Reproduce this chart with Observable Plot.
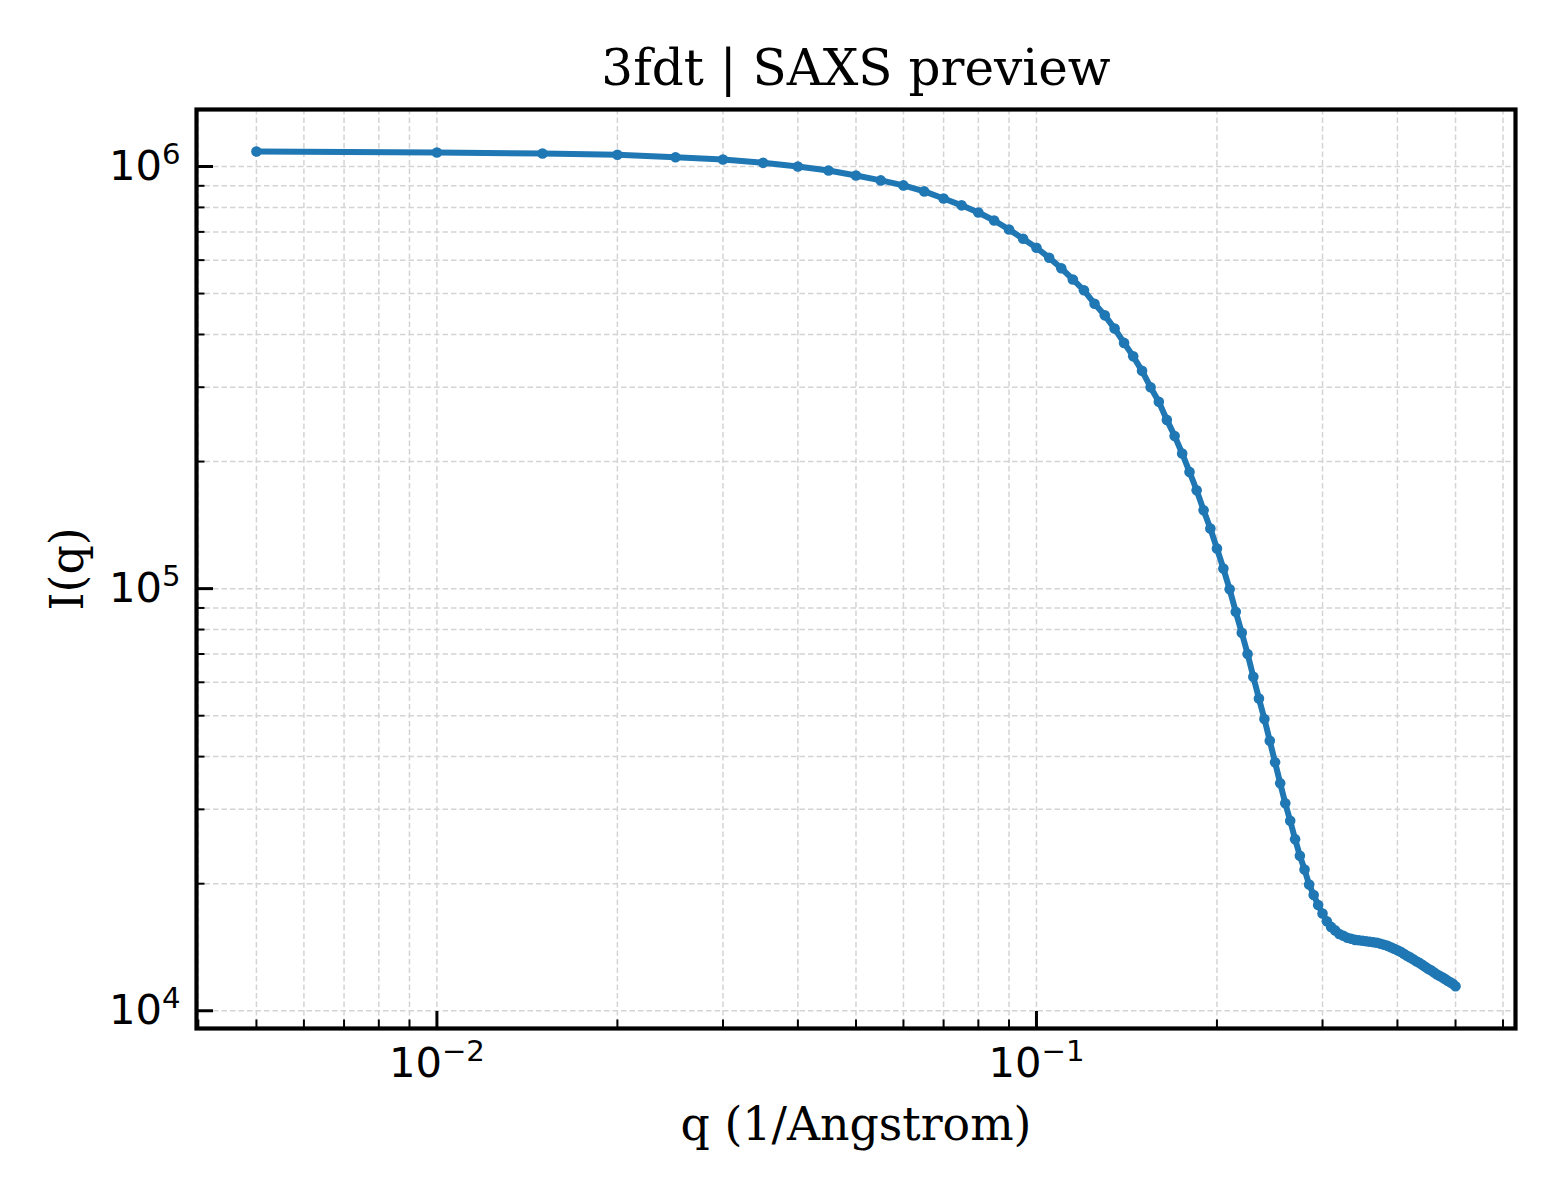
<!DOCTYPE html>
<html>
<head>
<meta charset="utf-8">
<script src="https://cdn.jsdelivr.net/npm/d3@7"></script>
<script src="https://cdn.jsdelivr.net/npm/@observablehq/plot@0.6"></script>
<style>
html, body { margin: 0; padding: 0; background: #ffffff; }
#chart { width: 1560px; height: 1200px; }
</style>
</head>
<body>
<div id="chart"></div>
<script>
// ---- data ----
const qValues = [
  0.005, 0.010, 0.015, 0.020, 0.025, 0.030, 0.035, 0.040, 0.045, 0.050,
  0.055, 0.060, 0.065, 0.070, 0.075, 0.080, 0.085, 0.090, 0.095, 0.100,
  0.105, 0.110, 0.115, 0.120, 0.125, 0.130, 0.135, 0.140, 0.145, 0.150,
  0.155, 0.160, 0.165, 0.170, 0.175, 0.180, 0.185, 0.190, 0.195, 0.200,
  0.205, 0.210, 0.215, 0.220, 0.225, 0.230, 0.235, 0.240, 0.245, 0.250,
  0.255, 0.260, 0.265, 0.270, 0.275, 0.280, 0.285, 0.290, 0.295, 0.300,
  0.305, 0.310, 0.315, 0.320, 0.325, 0.330, 0.335, 0.340, 0.345, 0.350,
  0.355, 0.360, 0.365, 0.370, 0.375, 0.380, 0.385, 0.390, 0.395, 0.400,
  0.405, 0.410, 0.415, 0.420, 0.425, 0.430, 0.435, 0.440, 0.445, 0.450,
  0.455, 0.460, 0.465, 0.470, 0.475, 0.480, 0.485, 0.490, 0.495, 0.500
];
const intensity = [
  1085000, 1079000, 1073000, 1066000, 1052000, 1039000, 1020000, 1000000, 978000, 952000,
  927000, 902000, 873000, 840000, 809000, 778000, 745000, 709000, 674000, 642000,
  608000, 574000, 540000, 509000, 473000, 444000, 413000, 382000, 355000, 328000,
  300000, 277000, 251000, 230000, 209000, 189000, 171000, 153400, 138800, 124500,
  111600, 99600, 88100, 78600, 70000, 61800, 54900, 49100, 43600, 38800,
  34600, 31000, 28200, 25500, 23300, 21600, 19900, 18800, 17800, 17000,
  16300, 15800, 15500, 15200, 15050, 14890, 14810, 14720, 14690, 14650,
  14610, 14570, 14530, 14490, 14410, 14330, 14250, 14140, 14020, 13910,
  13790, 13640, 13500, 13380, 13240, 13100, 12990, 12850, 12710, 12570,
  12470, 12340, 12200, 12100, 12000, 11900, 11780, 11680, 11580, 11430
];
const xMajorTicks = [0.01, 0.1];
const xMinorTicks = [0.004, 0.005, 0.006, 0.007, 0.008, 0.009,
                     0.02, 0.03, 0.04, 0.05, 0.06, 0.07, 0.08, 0.09,
                     0.2, 0.3, 0.4, 0.5, 0.6];
const yMajorTicks = [1e4, 1e5, 1e6];
const yMinorTicks = [2e4, 3e4, 4e4, 5e4, 6e4, 7e4, 8e4, 9e4,
                     2e5, 3e5, 4e5, 5e5, 6e5, 7e5, 8e5, 9e5];
const titleText = "3fdt | SAXS preview";
const xLabelText = "q (1/Angstrom)";
const yLabelText = "I(q)";

// ---- build table ----
const data = qValues.map((q, i) => ({q, I: intensity[i]}));

const expFmt = (v) => "10^" + String(Math.round(Math.log10(v))).replace("-", "\u2212");
const noText = () => "";

const gridStyle = {stroke: "#d4d4d4", strokeOpacity: 1, strokeWidth: 1.5, strokeDasharray: "5.5,3"};
const serif = "'DejaVu Serif', serif";
const sans = "'DejaVu Sans', sans-serif";

const chart = Plot.plot({
  width: 1560,
  height: 1200,
  marginLeft: 196,
  marginRight: 45,
  marginTop: 109,
  marginBottom: 172,
  style: {fontFamily: sans, background: "#ffffff", color: "#000000", overflow: "visible"},
  x: {type: "log", domain: [Math.pow(10, -2.401), Math.pow(10, -0.201)]},
  y: {type: "log", domain: [Math.pow(10, 3.958), Math.pow(10, 6.135)]},
  marks: [
    Plot.gridX({ticks: xMinorTicks, ...gridStyle}),
    Plot.gridX({ticks: xMajorTicks, ...gridStyle}),
    Plot.gridY({ticks: yMinorTicks, ...gridStyle}),
    Plot.gridY({ticks: yMajorTicks, ...gridStyle}),
    Plot.line(data, {x: "q", y: "I", stroke: "#1f77b4", strokeWidth: 6, strokeLinejoin: "round", strokeLinecap: "round"}),
    Plot.dot(data, {x: "q", y: "I", r: 5.3, fill: "#1f77b4", stroke: "none"}),
    Plot.frame({stroke: "#000000", strokeWidth: 4.2}),
    // inward ticks
    Plot.axisX({ticks: xMinorTicks, tickSize: -8.5, strokeWidth: 2, tickFormat: noText, label: null, stroke: "#000"}),
    Plot.axisX({ticks: xMajorTicks, tickSize: -17, strokeWidth: 3, tickFormat: noText, label: null, stroke: "#000"}),
    Plot.axisY({ticks: yMinorTicks, tickSize: -8.5, strokeWidth: 2, tickFormat: noText, label: null, stroke: "#000"}),
    Plot.axisY({ticks: yMajorTicks, tickSize: -17, strokeWidth: 3, tickFormat: noText, label: null, stroke: "#000"}),
    // tick labels
    Plot.axisX({ticks: xMajorTicks, tickSize: 0, tickPadding: 19, tickFormat: expFmt, label: null,
                fontSize: 41.7, fontFamily: sans, fill: "#000"}),
    Plot.axisY({ticks: yMajorTicks, tickSize: 0, tickPadding: 16, tickFormat: expFmt, label: null,
                fontSize: 41.7, fontFamily: sans, fill: "#000"}),
    // title and axis labels
    Plot.text([titleText], {frameAnchor: "top", textAnchor: "middle", lineAnchor: "middle", dy: -41,
                            fontSize: 50, fontFamily: serif, fill: "#000"}),
    Plot.text([xLabelText], {frameAnchor: "bottom", textAnchor: "middle", lineAnchor: "middle", dy: 97,
                             fontSize: 45.8, fontFamily: serif, fill: "#000"}),
    Plot.text([yLabelText], {frameAnchor: "left", textAnchor: "middle", lineAnchor: "middle", rotate: -90, dx: -128,
                             fontSize: 45.8, fontFamily: serif, fill: "#000"})
  ]
});

// turn "10^n" tick labels into base + superscript (real text)
const NS = "http://www.w3.org/2000/svg";
chart.querySelectorAll('[aria-label="x-axis tick label"] text, [aria-label="y-axis tick label"] text').forEach((t) => {
  const s = t.textContent;
  const parts = s.split("^");
  if (parts.length !== 2) return;
  t.textContent = parts[0];
  const sup = document.createElementNS(NS, "tspan");
  sup.setAttribute("font-size", "0.7em");
  sup.setAttribute("dy", "-0.55em");
  sup.textContent = parts[1];
  t.appendChild(sup);
});

document.getElementById("chart").append(chart);
</script>
</body>
</html>
